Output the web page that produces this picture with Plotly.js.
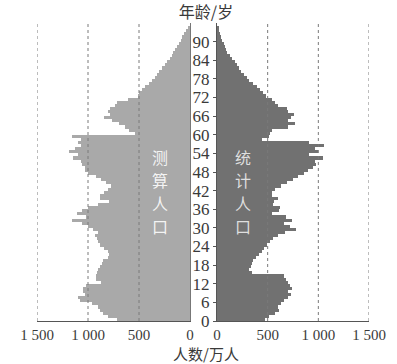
<!DOCTYPE html>
<html>
<head>
<meta charset="utf-8">
<script src="https://cdn.plot.ly/plotly-3.0.1.min.js"></script>
<style>html,body{margin:0;padding:0;background:#fff;}#chart{width:397px;height:364px;}</style>
</head>
<body>
<div id="chart"></div>
<script>
// Age (years) of each one-year group
const ages = [0,1,2,3,4,5,6,7,8,9,10,11,12,13,14,15,16,17,18,19,20,21,22,23,24,25,26,27,28,29,
  30,31,32,33,34,35,36,37,38,39,40,41,42,43,44,45,46,47,48,49,50,51,52,53,54,55,56,57,58,59,
  60,61,62,63,64,65,66,67,68,69,70,71,72,73,74,75,76,77,78,79,80,81,82,83,84,85,86,87,88,89,
  90,91,92,93,94];

// 测算人口 (万人)
const estimated = [720,800,850,880,900,960,1080,1100,1030,1050,1050,1020,870,920,920,910,900,880,860,850,
  800,790,800,840,880,900,910,930,900,950,1000,1060,1160,1020,1110,1060,1000,900,790,880,
  880,840,800,770,820,870,920,1000,1030,1030,1060,1070,1150,1100,1190,1130,1070,1100,1070,1160,
  540,600,640,700,760,840,780,800,780,740,720,610,510,500,470,440,400,370,340,320,
  300,270,250,230,200,180,165,150,130,110,90,75,60,40,20];

// 统计人口 (万人)
const counted = [470,510,570,610,600,630,660,700,730,700,740,720,700,680,660,350,320,340,350,360,
  380,410,440,460,490,520,550,600,670,780,720,660,740,680,540,610,620,550,560,600,
  540,540,570,630,690,750,800,860,900,950,980,970,1050,910,1000,970,1060,910,440,510,
  520,540,700,770,700,730,760,700,690,600,570,540,480,450,420,390,360,320,300,270,
  240,220,200,180,150,130,100,90,80,65,50,40,30,20,15];

const ageTicks = [0,6,12,18,24,30,36,42,48,54,60,66,72,78,84,90];
const xTickVals = [0,500,1000,1500];
const xTickText = ['0','500','1 000','1 500'];
const gridVals = [500,1000,1500];
const leftLabel = ['测','算','人','口'];
const rightLabel = ['统','计','人','口'];

const yMid = ages.map(a => a + 0.5);
const serif = '"Liberation Serif", "DejaVu Serif", serif';
const cjk = '"Noto Sans CJK SC", sans-serif';
const textColor = '#3a3a3a';

const traces = [
  {type:'bar', orientation:'h', x: estimated, y: yMid, width: 1, xaxis:'x', yaxis:'y2',
   marker:{color:'#a9a9a9', line:{width:0}}, hoverinfo:'skip'},
  {type:'bar', orientation:'h', x: counted, y: yMid, width: 1, xaxis:'x2', yaxis:'y',
   marker:{color:'#717171', line:{width:0}}, hoverinfo:'skip'}
];

const shapes = [];
gridVals.forEach(v => {
  ['x','x2'].forEach(ax => {
    shapes.push({type:'line', xref:ax, yref:'paper', x0:v, x1:v, y0:0, y1:1, layer:'above',
      line:{color:'#7a7a7a', width:1, dash:'3px,3px'}});
  });
});

const annotations = [
  {text:'人数/万人', xref:'paper', yref:'paper', x:(206-37)/332, y:-32/298, xanchor:'center', yanchor:'middle',
    showarrow:false, borderpad:0, font:{family:cjk, size:15, color:textColor}}
];
const charY = [157, 180, 203, 226];
leftLabel.forEach((c, i) => annotations.push({text:c, xref:'paper', yref:'paper', x:(160-37)/332,
  y:(321-charY[i])/298, xanchor:'center', yanchor:'middle', showarrow:false,
  font:{family:cjk, size:16, color:'rgba(255,255,255,0.88)'}}));
rightLabel.forEach((c, i) => annotations.push({text:c, xref:'paper', yref:'paper', x:(243-37)/332,
  y:(321-charY[i])/298, xanchor:'center', yanchor:'middle', showarrow:false,
  font:{family:cjk, size:16, color:'rgba(255,255,255,0.78)'}}));

const yTop = 96;
const layout = {
  width:397, height:364,
  margin:{l:37, r:28, t:23, b:43, pad:0},
  paper_bgcolor:'#ffffff', plot_bgcolor:'rgba(0,0,0,0)',
  showlegend:false, bargap:0,
  font:{family:serif, size:17, color:textColor},
  title:{text:'年龄/岁', font:{family:cjk, size:16, color:textColor},
    x:206/397, xanchor:'center', y:1-12/364, yanchor:'middle'},
  xaxis:{domain:[0,153/332], range:[1500,0], tickvals:xTickVals, ticktext:xTickText,
    showgrid:false, zeroline:false, showline:true, linecolor:'#555', linewidth:1,
    ticks:'', tickfont:{family:serif, size:15, color:textColor}, anchor:'y2', fixedrange:true},
  xaxis2:{domain:[180/332,1], range:[0,1500], tickvals:xTickVals, ticktext:xTickText,
    showgrid:false, zeroline:false, showline:true, linecolor:'#555', linewidth:1,
    ticks:'', tickfont:{family:serif, size:15, color:textColor}, anchor:'y', fixedrange:true},
  yaxis:{range:[0,yTop], anchor:'x2', side:'left', tickvals:ageTicks,
    showgrid:false, zeroline:false, showline:true, linecolor:'#555', linewidth:1,
    ticks:'outside', ticklen:3, tickcolor:'#555', tickfont:{family:serif, size:17, color:textColor},
    fixedrange:true},
  yaxis2:{range:[0,yTop], anchor:'x', side:'right', matches:'y', showticklabels:false,
    showgrid:false, zeroline:false, showline:true, linecolor:'#777', linewidth:1, ticks:'',
    fixedrange:true},
  shapes: shapes,
  annotations: annotations
};

Plotly.newPlot('chart', traces, layout, {staticPlot:true, displayModeBar:false});
</script>
</body>
</html>
